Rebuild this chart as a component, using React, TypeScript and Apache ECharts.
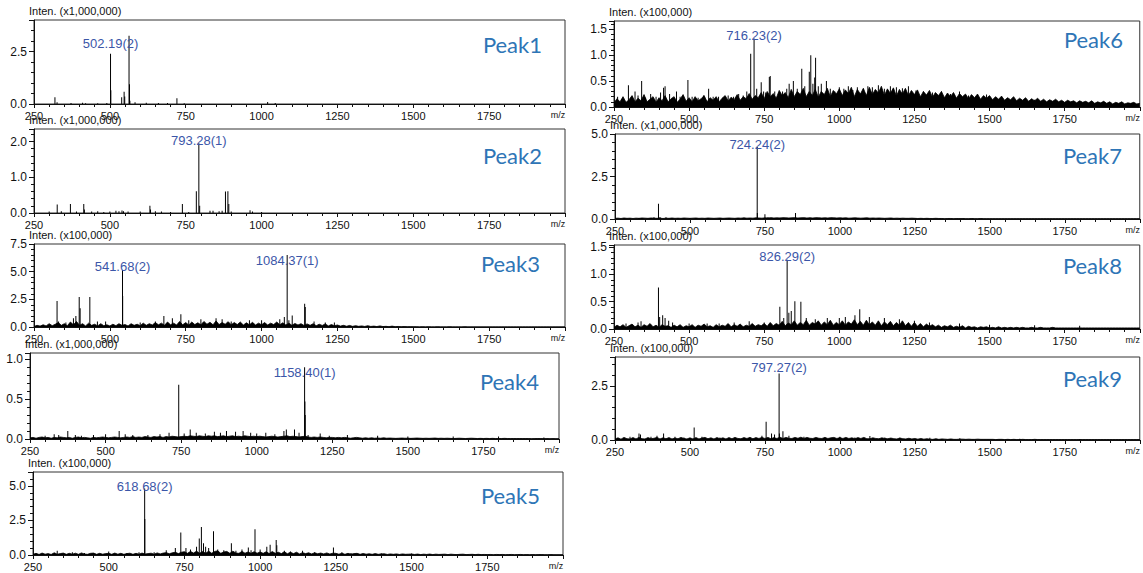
import React, { useEffect, useRef } from 'react';
import * as echarts from 'echarts';

// ---------------- data ----------------
const MZ_MIN = 250;
const MZ_MAX = 2000;
const MZ_INTERVAL = 250;
const NOISE_START = 250;
const NOISE_STEP = 10;

const PANEL_NAMES = ['Peak1', 'Peak2', 'Peak3', 'Peak4', 'Peak5', 'Peak6', 'Peak7', 'Peak8', 'Peak9'];
const INTEN_LABELS = [
  'Inten. (x1,000,000)', 'Inten. (x1,000,000)', 'Inten. (x100,000)', 'Inten. (x1,000,000)', 'Inten. (x100,000)',
  'Inten. (x100,000)', 'Inten. (x1,000,000)', 'Inten. (x100,000)', 'Inten. (x100,000)',
];
const Y_MAX = [4.0, 2.35, 7.5, 1.08, 6.0, 1.66, 5.0, 1.54, 3.83];
const Y_INTERVAL = [2.5, 1.0, 2.5, 0.5, 2.5, 0.5, 2.5, 0.5, 2.5];

const ANNOT_1 = [{ mz: 502.19, text: '502.19(2)' }];
const ANNOT_2 = [{ mz: 793.28, text: '793.28(1)' }];
const ANNOT_3 = [{ mz: 541.68, text: '541.68(2)' }, { mz: 1084.37, text: '1084.37(1)' }];
const ANNOT_4 = [{ mz: 1158.4, text: '1158.40(1)' }];
const ANNOT_5 = [{ mz: 618.68, text: '618.68(2)' }];
const ANNOT_6 = [{ mz: 716.23, text: '716.23(2)' }];
const ANNOT_7 = [{ mz: 724.24, text: '724.24(2)' }];
const ANNOT_8 = [{ mz: 826.29, text: '826.29(2)' }];
const ANNOT_9 = [{ mz: 797.27, text: '797.27(2)' }];

const PEAKS_1 = [
  [319, 0.32], [326, 0.08], [372, 0.05], [410, 0.06], [420, 0.04], [460, 0.04], [490, 0.05],
  [502.19, 2.39], [503.19, 0.65], [539, 0.32], [547, 0.58], [549, 0.36], [563.2, 3.25], [564.7, 0.94],
  [566, 0.15], [583, 0.08], [620, 0.06], [660, 0.05], [690, 0.05], [721, 0.27], [745, 0.04], [1020, 0.1], [1045, 0.05],
];
const PEAKS_2 = [
  [300, 0.04], [326.5, 0.24], [340, 0.05], [370, 0.25], [390, 0.04], [414, 0.25], [416, 0.1], [440, 0.04],
  [460, 0.05], [480, 0.03], [500, 0.04], [520, 0.06], [530, 0.05], [540, 0.07], [545, 0.05], [560, 0.04],
  [600, 0.04], [632, 0.2], [634, 0.1], [650, 0.05], [670, 0.04], [700, 0.03], [739, 0.25], [760, 0.03],
  [785, 0.61], [793.28, 1.95], [796, 0.2], [830, 0.06], [840, 0.06], [860, 0.05], [870, 0.06], [881, 0.6],
  [889, 0.61], [892, 0.25], [900, 0.04], [962, 0.08], [970, 0.04], [1000, 0.03],
];
const PEAKS_3 = [
  [326, 2.35], [331, 0.5], [355, 0.4], [380, 0.8], [388, 1.0], [399, 2.7], [402, 1.7], [434, 2.7], [459, 0.5],
  [486, 0.5], [541.68, 5.15], [542.18, 2.8], [600, 0.4], [650, 0.5], [678, 1.0], [706, 0.8], [734, 1.15],
  [760, 0.6], [800, 0.7], [850, 0.8], [870, 0.7], [900, 0.5], [960, 0.6], [1000, 0.6], [1060, 0.7],
  [1075, 0.9], [1084.37, 6.5], [1090, 0.6], [1101, 1.05], [1142, 2.1], [1144, 1.8], [1173, 0.5],
  [1210, 0.4], [1240, 0.4],
];
const PEAKS_4 = [
  [300, 0.04], [330, 0.06], [345, 0.05], [375, 0.1], [400, 0.05], [420, 0.04], [460, 0.05], [500, 0.06],
  [545, 0.1], [565, 0.06], [590, 0.05], [640, 0.05], [680, 0.06], [710, 0.08], [742, 0.68], [760, 0.07],
  [780, 0.12], [800, 0.08], [830, 0.07], [860, 0.09], [880, 0.08], [900, 0.1], [930, 0.09], [955, 0.1],
  [980, 0.08], [1000, 0.07], [1030, 0.08], [1060, 0.06], [1090, 0.1], [1098, 0.12], [1125, 0.12],
  [1140, 0.08], [1158.4, 0.9], [1159.4, 0.47], [1160.4, 0.3], [1170, 0.05], [1210, 0.07], [1240, 0.04],
  [1300, 0.05], [1400, 0.04], [1500, 0.03], [1650, 0.03], [1800, 0.03], [1950, 0.02],
];
const PEAKS_5 = [
  [330, 0.3], [380, 0.2], [420, 0.15], [500, 0.25], [560, 0.15], [600, 0.2], [618.68, 4.8], [619.18, 2.6],
  [650, 0.2], [690, 0.35], [720, 0.5], [738, 1.63], [755, 0.5], [770, 0.4], [790, 0.6], [799, 1.2],
  [806, 2.03], [813, 0.85], [820, 0.6], [830, 0.5], [846, 1.72], [860, 0.4], [880, 0.35], [905, 0.85],
  [920, 0.3], [940, 0.4], [961, 0.55], [970, 0.35], [983, 1.87], [1000, 0.4], [1022, 0.6], [1033, 0.75],
  [1053, 1.08], [1055, 0.7], [1080, 0.3], [1100, 0.25], [1140, 0.3], [1180, 0.2], [1242, 0.55],
  [1270, 0.2], [1300, 0.15], [1400, 0.12], [1500, 0.1],
];
const PEAKS_6 = [
  [262, 0.2], [275, 0.15], [298, 0.42], [310, 0.2], [320, 0.3], [330, 0.22], [342, 0.5], [355, 0.18],
  [372, 0.25], [390, 0.2], [405, 0.28], [415, 0.37], [420, 0.4], [435, 0.25], [458, 0.3], [470, 0.2],
  [496, 0.52], [510, 0.2], [530, 0.18], [548, 0.22], [565, 0.35], [580, 0.2], [598, 0.2], [612, 0.18],
  [630, 0.22], [648, 0.2], [665, 0.25], [680, 0.22], [692, 0.3], [705, 1.03], [716.23, 1.32], [725, 0.35],
  [740, 0.48], [748, 0.3], [755, 0.28], [767, 0.58], [770, 0.6], [785, 0.3], [800, 0.28], [811, 0.3],
  [825, 0.35], [833, 0.45], [847, 0.5], [860, 0.35], [875, 0.74], [885, 0.4], [900, 0.68], [905, 1.0],
  [912, 0.45], [918, 0.57], [921, 0.95], [930, 0.4], [940, 0.45], [957, 0.5], [970, 0.35], [985, 0.3],
  [1000, 0.38], [1015, 0.35], [1030, 0.4], [1045, 0.33], [1060, 0.38], [1080, 0.35], [1095, 0.4],
  [1110, 0.38], [1130, 0.42], [1150, 0.35], [1170, 0.4], [1190, 0.38], [1210, 0.36], [1230, 0.4],
  [1255, 0.32], [1280, 0.3], [1310, 0.28], [1340, 0.3], [1370, 0.25], [1400, 0.3], [1430, 0.22],
  [1460, 0.22], [1490, 0.24], [1520, 0.18], [1560, 0.16], [1600, 0.15], [1650, 0.14], [1700, 0.12],
  [1760, 0.12], [1820, 0.1], [1880, 0.1], [1940, 0.08],
];
const PEAKS_7 = [
  [300, 0.05], [330, 0.06], [380, 0.1], [395, 0.9], [400, 0.12], [420, 0.1], [460, 0.06], [500, 0.05],
  [560, 0.06], [620, 0.06], [680, 0.05], [724.24, 4.23], [724.74, 0.35], [750, 0.28], [760, 0.1],
  [800, 0.08], [852, 0.35], [900, 0.08], [960, 0.06], [1050, 0.05], [1200, 0.05], [1400, 0.04],
];
const PEAKS_8 = [
  [290, 0.1], [330, 0.12], [340, 0.14], [398, 0.76], [402, 0.22], [412, 0.25], [420, 0.2], [432, 0.15],
  [445, 0.12], [500, 0.1], [560, 0.1], [600, 0.1], [650, 0.12], [700, 0.14], [750, 0.12], [802, 0.41],
  [815, 0.2], [826.29, 1.27], [832, 0.3], [840, 0.33], [852, 0.51], [872, 0.5], [890, 0.2], [920, 0.18],
  [960, 0.2], [1000, 0.2], [1020, 0.22], [1052, 0.25], [1068, 0.36], [1100, 0.22], [1150, 0.2],
  [1200, 0.18], [1250, 0.15], [1300, 0.12], [1400, 0.1], [1500, 0.08], [1650, 0.07], [1800, 0.06],
];
const PEAKS_9 = [
  [300, 0.15], [330, 0.3], [335, 0.25], [370, 0.15], [390, 0.2], [412, 0.3], [450, 0.15], [480, 0.12],
  [514, 0.58], [540, 0.15], [600, 0.12], [650, 0.1], [700, 0.12], [740, 0.2], [754, 0.84], [772, 0.3],
  [782, 0.25], [797.27, 3.07], [798.3, 0.3], [810, 0.4], [830, 0.2], [880, 0.15], [950, 0.12],
  [1000, 0.15], [1050, 0.12], [1100, 0.18], [1150, 0.12], [1200, 0.1], [1300, 0.1], [1400, 0.08],
  [1600, 0.06], [1800, 0.05],
];

// baseline noise, sampled every 10 m/z from 250
const NOISE_1: number[] = [];
const NOISE_2: number[] = [];
const NOISE_3 = [
  0.05, 0.15, 0.08, 0.2, 0.1, 0.3, 0.12, 0.25, 0.4, 0.15, 0.3, 0.12, 0.45, 0.2, 0.5, 0.15, 0.3, 0.1, 0.35, 0.15, 0.25, 0.1, 0.3, 0.12, 0.2,
  0.1, 0.25, 0.12, 0.3, 0.15, 0.22, 0.1, 0.3, 0.15, 0.25, 0.12, 0.35, 0.15, 0.3, 0.18, 0.4, 0.2, 0.35, 0.15, 0.45, 0.2, 0.35, 0.18, 0.5, 0.2,
  0.4, 0.18, 0.45, 0.22, 0.38, 0.2, 0.5, 0.25, 0.42, 0.2, 0.55, 0.22, 0.4, 0.25, 0.48, 0.2, 0.4, 0.22, 0.45, 0.18, 0.38, 0.2, 0.42, 0.18, 0.35,
  0.2, 0.4, 0.18, 0.35, 0.22, 0.45, 0.2, 0.38, 0.18, 0.35, 0.15, 0.32, 0.18, 0.3, 0.14, 0.28, 0.15, 0.3, 0.12, 0.25, 0.14, 0.28, 0.1, 0.22, 0.12,
  0.18, 0.08, 0.15, 0.07, 0.14, 0.06, 0.12, 0.06, 0.1, 0.05, 0.12, 0.05, 0.08, 0.04, 0.1, 0.04, 0.06, 0.03, 0.08, 0.03, 0.05, 0.02, 0.04, 0.02, 0.03,
  0.02, 0.02, 0.01, 0.02, 0.01, 0.02, 0.01, 0.01, 0.02, 0.01, 0.01, 0.01, 0.02, 0.01, 0.01, 0.01, 0.01, 0.02, 0.01, 0.01, 0.01, 0.01, 0.01, 0.01, 0.01,
  0.01, 0.01, 0.01, 0.01, 0.01, 0.01, 0.01, 0.01, 0.01, 0.01, 0.01, 0.01, 0.01, 0.01, 0.01, 0.01, 0.01, 0.01, 0.01, 0.01, 0.01, 0.01, 0.01, 0.01, 0.01, 0.01,
];
const NOISE_4 = [
  0.015, 0.02, 0.01, 0.02, 0.025, 0.015, 0.02, 0.01, 0.02, 0.015, 0.025, 0.02, 0.015, 0.02, 0.01, 0.02, 0.025, 0.015, 0.02, 0.015, 0.01, 0.02, 0.015, 0.02, 0.025,
  0.02, 0.015, 0.02, 0.025, 0.02, 0.015, 0.02, 0.025, 0.02, 0.03, 0.02, 0.025, 0.02, 0.03, 0.025, 0.02, 0.03, 0.025, 0.03, 0.02, 0.03, 0.025, 0.035, 0.03, 0.025,
  0.03, 0.035, 0.03, 0.04, 0.035, 0.03, 0.04, 0.035, 0.03, 0.04, 0.035, 0.04, 0.03, 0.035, 0.04, 0.03, 0.035, 0.04, 0.03, 0.035, 0.03, 0.04, 0.035, 0.03, 0.035,
  0.03, 0.035, 0.03, 0.025, 0.03, 0.035, 0.03, 0.025, 0.03, 0.035, 0.04, 0.03, 0.035, 0.03, 0.025, 0.03, 0.035, 0.025, 0.02, 0.025, 0.02, 0.025, 0.02, 0.015, 0.02,
  0.02, 0.015, 0.02, 0.015, 0.02, 0.015, 0.01, 0.015, 0.02, 0.015, 0.01, 0.015, 0.01, 0.015, 0.01, 0.012, 0.01, 0.015, 0.01, 0.012, 0.01, 0.008, 0.01, 0.012, 0.01,
  0.01, 0.008, 0.01, 0.012, 0.01, 0.008, 0.01, 0.008, 0.01, 0.012, 0.008, 0.01, 0.008, 0.01, 0.008, 0.006, 0.008, 0.01, 0.008, 0.006, 0.008, 0.01, 0.008, 0.006, 0.008,
  0.006, 0.008, 0.006, 0.008, 0.006, 0.005, 0.006, 0.008, 0.006, 0.005, 0.006, 0.005, 0.006, 0.005, 0.006, 0.005, 0.004, 0.005, 0.006, 0.005, 0.004, 0.005, 0.004, 0.005, 0.004, 0.004,
];
const NOISE_5 = [
  0.05, 0.12, 0.04, 0.14, 0.06, 0.1, 0.04, 0.16, 0.06, 0.1, 0.14, 0.05, 0.12, 0.06, 0.13, 0.05, 0.15, 0.07, 0.05, 0.12, 0.14, 0.05, 0.12, 0.06, 0.1,
  0.12, 0.05, 0.14, 0.06, 0.12, 0.05, 0.1, 0.13, 0.05, 0.12, 0.06, 0.14, 0.07, 0.1, 0.13, 0.06, 0.15, 0.08, 0.14, 0.17, 0.09, 0.16, 0.2, 0.1, 0.2,
  0.24, 0.12, 0.26, 0.14, 0.28, 0.12, 0.26, 0.12, 0.28, 0.13, 0.26, 0.3, 0.12, 0.22, 0.26, 0.12, 0.28, 0.14, 0.12, 0.26, 0.13, 0.22, 0.12, 0.24, 0.13,
  0.22, 0.12, 0.24, 0.1, 0.25, 0.12, 0.2, 0.1, 0.24, 0.09, 0.2, 0.1, 0.2, 0.08, 0.17, 0.1, 0.16, 0.08, 0.16, 0.09, 0.14, 0.08, 0.15, 0.07, 0.13,
  0.12, 0.06, 0.13, 0.05, 0.12, 0.06, 0.1, 0.12, 0.05, 0.11, 0.06, 0.09, 0.05, 0.1, 0.05, 0.08, 0.09, 0.04, 0.08, 0.05, 0.08, 0.04, 0.08, 0.05, 0.06,
  0.07, 0.04, 0.07, 0.03, 0.06, 0.04, 0.07, 0.03, 0.06, 0.04, 0.05, 0.06, 0.03, 0.06, 0.04, 0.03, 0.05, 0.06, 0.03, 0.04, 0.05, 0.03, 0.05, 0.03, 0.04,
  0.03, 0.04, 0.02, 0.04, 0.03, 0.04, 0.02, 0.03, 0.04, 0.02, 0.03, 0.04, 0.02, 0.03, 0.02, 0.03, 0.02, 0.03, 0.03, 0.02, 0.02, 0.03, 0.02, 0.02, 0.02, 0.02,
];
const NOISE_6 = [
  0.08, 0.16, 0.1, 0.2, 0.09, 0.14, 0.22, 0.1, 0.17, 0.12, 0.24, 0.1, 0.15, 0.2, 0.09, 0.18, 0.12, 0.22, 0.1, 0.16, 0.2, 0.09, 0.15, 0.24, 0.11,
  0.18, 0.1, 0.2, 0.12, 0.16, 0.22, 0.1, 0.18, 0.13, 0.2, 0.1, 0.17, 0.22, 0.12, 0.19, 0.14, 0.24, 0.13, 0.2, 0.16, 0.26, 0.15, 0.22, 0.18, 0.28,
  0.16, 0.3, 0.2, 0.26, 0.17, 0.32, 0.22, 0.28, 0.18, 0.34, 0.2, 0.3, 0.24, 0.36, 0.2, 0.3, 0.22, 0.34, 0.19, 0.3, 0.24, 0.36, 0.2, 0.32, 0.25,
  0.35, 0.22, 0.33, 0.26, 0.38, 0.2, 0.34, 0.25, 0.36, 0.22, 0.38, 0.24, 0.34, 0.27, 0.4, 0.22, 0.35, 0.26, 0.37, 0.21, 0.34, 0.25, 0.36, 0.22, 0.32,
  0.24, 0.33, 0.2, 0.3, 0.23, 0.32, 0.19, 0.28, 0.22, 0.3, 0.18, 0.27, 0.2, 0.28, 0.17, 0.26, 0.2, 0.25, 0.16, 0.24, 0.18, 0.25, 0.15, 0.22, 0.17,
  0.22, 0.14, 0.2, 0.15, 0.21, 0.13, 0.18, 0.14, 0.2, 0.12, 0.17, 0.13, 0.18, 0.11, 0.16, 0.12, 0.17, 0.11, 0.15, 0.1, 0.14, 0.11, 0.15, 0.1, 0.13,
  0.09, 0.13, 0.1, 0.12, 0.08, 0.12, 0.09, 0.11, 0.08, 0.12, 0.07, 0.1, 0.08, 0.11, 0.07, 0.1, 0.06, 0.09, 0.07, 0.1, 0.06, 0.08, 0.07, 0.09, 0.06, 0.07,
];
const NOISE_7 = [
  0.04, 0.05, 0.03, 0.06, 0.04, 0.05, 0.03, 0.05, 0.04, 0.06, 0.05, 0.04, 0.06, 0.05, 0.04, 0.05, 0.03, 0.05, 0.04, 0.06, 0.04, 0.05, 0.04, 0.06, 0.05,
  0.04, 0.05, 0.06, 0.04, 0.05, 0.04, 0.06, 0.05, 0.04, 0.05, 0.06, 0.04, 0.05, 0.06, 0.05, 0.04, 0.06, 0.05, 0.07, 0.05, 0.06, 0.05, 0.07, 0.06, 0.05,
  0.07, 0.06, 0.08, 0.06, 0.07, 0.06, 0.08, 0.07, 0.06, 0.07, 0.08, 0.06, 0.07, 0.08, 0.06, 0.07, 0.06, 0.08, 0.07, 0.06, 0.07, 0.06, 0.08, 0.07, 0.06,
  0.07, 0.06, 0.07, 0.05, 0.06, 0.07, 0.06, 0.05, 0.06, 0.07, 0.05, 0.06, 0.05, 0.06, 0.05, 0.04, 0.05, 0.06, 0.04, 0.05, 0.04, 0.05, 0.04, 0.04, 0.05,
  0.04, 0.03, 0.04, 0.03, 0.04, 0.03, 0.03, 0.04, 0.03, 0.03, 0.02, 0.03, 0.03, 0.02, 0.03, 0.02, 0.03, 0.02, 0.02, 0.03, 0.02, 0.02, 0.03, 0.02, 0.02,
  0.02, 0.02, 0.02, 0.02, 0.02, 0.02, 0.02, 0.02, 0.02, 0.02, 0.02, 0.02, 0.02, 0.02, 0.02, 0.02, 0.02, 0.02, 0.02, 0.02, 0.02, 0.02, 0.02, 0.02, 0.02,
  0.02, 0.02, 0.02, 0.02, 0.02, 0.02, 0.02, 0.02, 0.02, 0.02, 0.02, 0.02, 0.02, 0.02, 0.02, 0.02, 0.02, 0.02, 0.02, 0.02, 0.02, 0.02, 0.02, 0.02, 0.02, 0.02,
];
const NOISE_8 = [
  0.03, 0.07, 0.04, 0.08, 0.03, 0.06, 0.09, 0.04, 0.07, 0.03, 0.08, 0.05, 0.1, 0.04, 0.07, 0.03, 0.08, 0.05, 0.06, 0.03, 0.07, 0.04, 0.08, 0.03, 0.06,
  0.04, 0.08, 0.03, 0.07, 0.05, 0.09, 0.04, 0.06, 0.03, 0.08, 0.04, 0.07, 0.05, 0.1, 0.04, 0.08, 0.05, 0.09, 0.04, 0.07, 0.05, 0.1, 0.05, 0.08, 0.06,
  0.1, 0.05, 0.12, 0.06, 0.1, 0.07, 0.14, 0.06, 0.11, 0.08, 0.15, 0.07, 0.12, 0.08, 0.16, 0.07, 0.12, 0.09, 0.15, 0.07, 0.13, 0.08, 0.16, 0.07, 0.12,
  0.08, 0.15, 0.07, 0.13, 0.09, 0.17, 0.08, 0.14, 0.07, 0.16, 0.08, 0.13, 0.07, 0.15, 0.06, 0.13, 0.08, 0.14, 0.06, 0.12, 0.07, 0.15, 0.06, 0.12, 0.05,
  0.12, 0.05, 0.1, 0.04, 0.09, 0.05, 0.08, 0.04, 0.07, 0.03, 0.06, 0.04, 0.07, 0.03, 0.05, 0.03, 0.06, 0.02, 0.05, 0.03, 0.04, 0.02, 0.04, 0.03, 0.04,
  0.02, 0.03, 0.02, 0.04, 0.02, 0.03, 0.02, 0.03, 0.02, 0.03, 0.02, 0.03, 0.02, 0.02, 0.03, 0.02, 0.02, 0.03, 0.02, 0.02, 0.02, 0.03, 0.02, 0.02, 0.02,
  0.02, 0.02, 0.02, 0.02, 0.02, 0.02, 0.02, 0.02, 0.02, 0.02, 0.02, 0.02, 0.02, 0.02, 0.02, 0.02, 0.02, 0.02, 0.02, 0.02, 0.02, 0.02, 0.02, 0.02, 0.02, 0.02,
];
const NOISE_9 = [
  0.05, 0.1, 0.04, 0.12, 0.06, 0.05, 0.11, 0.05, 0.12, 0.06, 0.05, 0.11, 0.06, 0.08, 0.12, 0.05, 0.1, 0.06, 0.11, 0.05, 0.09, 0.06, 0.12, 0.07, 0.05,
  0.1, 0.05, 0.11, 0.05, 0.09, 0.12, 0.06, 0.1, 0.05, 0.11, 0.06, 0.1, 0.05, 0.11, 0.06, 0.12, 0.07, 0.06, 0.11, 0.07, 0.12, 0.06, 0.11, 0.07, 0.12,
  0.07, 0.12, 0.06, 0.11, 0.07, 0.13, 0.07, 0.12, 0.08, 0.07, 0.12, 0.08, 0.13, 0.07, 0.12, 0.08, 0.07, 0.12, 0.08, 0.07, 0.12, 0.07, 0.1, 0.12, 0.07,
  0.11, 0.07, 0.12, 0.07, 0.1, 0.06, 0.11, 0.07, 0.12, 0.06, 0.06, 0.1, 0.07, 0.06, 0.1, 0.07, 0.06, 0.09, 0.06, 0.05, 0.09, 0.06, 0.05, 0.08, 0.05,
  0.07, 0.04, 0.07, 0.04, 0.06, 0.04, 0.03, 0.06, 0.03, 0.05, 0.04, 0.03, 0.05, 0.03, 0.03, 0.04, 0.04, 0.03, 0.04, 0.03, 0.03, 0.04, 0.03, 0.03, 0.03,
  0.03, 0.03, 0.02, 0.03, 0.03, 0.02, 0.03, 0.02, 0.03, 0.02, 0.02, 0.03, 0.02, 0.02, 0.02, 0.03, 0.02, 0.02, 0.02, 0.02, 0.02, 0.02, 0.02, 0.02, 0.02,
  0.02, 0.02, 0.02, 0.02, 0.02, 0.02, 0.02, 0.02, 0.02, 0.02, 0.02, 0.02, 0.02, 0.02, 0.02, 0.02, 0.02, 0.02, 0.02, 0.02, 0.02, 0.02, 0.02, 0.02, 0.02, 0.02,
];

const PEAKS = [PEAKS_1, PEAKS_2, PEAKS_3, PEAKS_4, PEAKS_5, PEAKS_6, PEAKS_7, PEAKS_8, PEAKS_9];
const NOISES = [NOISE_1, NOISE_2, NOISE_3, NOISE_4, NOISE_5, NOISE_6, NOISE_7, NOISE_8, NOISE_9];
const ANNOTS = [ANNOT_1, ANNOT_2, ANNOT_3, ANNOT_4, ANNOT_5, ANNOT_6, ANNOT_7, ANNOT_8, ANNOT_9];

// ---------------- layout / style ----------------
const LAYOUT = [
  { left: 34, top: 20, width: 531, height: 84 },
  { left: 34, top: 129, width: 531, height: 84 },
  { left: 34, top: 244, width: 531, height: 83 },
  { left: 30, top: 353, width: 529, height: 86 },
  { left: 33, top: 472, width: 530, height: 83 },
  { left: 614, top: 21, width: 528, height: 86 },
  { left: 615, top: 134, width: 527, height: 85 },
  { left: 614, top: 245, width: 528, height: 84 },
  { left: 615, top: 357, width: 527, height: 83 },
];
const NAME_DY = [24, 26, 19, 28, 23, 18, 21, 20, 21];
const NAME_DX = [23, 23, 25, 20, 23, 19, 20, 20, 20];
const LABEL_DY: number[][] = [[1], [9], [8, 17], [17], [9], [8], [9], [8], [6]];

const NARROW = '"Liberation Sans Narrow", "Arial Narrow", "Liberation Sans", Arial, sans-serif';
const ANNOT_COLOR = '#3b56a8';
const NAME_COLOR = '#2e75b6';

function buildOption() {
  const grid: any[] = [];
  const xAxis: any[] = [];
  const yAxis: any[] = [];
  const series: any[] = [];
  const graphic: any[] = [];

  LAYOUT.forEach((g, i) => {
    grid.push({ ...g, show: true, borderColor: '#333', borderWidth: 1, backgroundColor: 'transparent' });
    xAxis.push({
      type: 'value', gridIndex: i, min: MZ_MIN, max: MZ_MAX, interval: MZ_INTERVAL,
      axisLine: { show: true, onZero: false, lineStyle: { color: '#111', width: 1 } },
      axisTick: { show: true, inside: false, length: 4, lineStyle: { color: '#111' } },
      minorTick: { show: true, splitNumber: 5, length: 3, lineStyle: { color: '#111' } },
      splitLine: { show: false }, minorSplitLine: { show: false },
      axisLabel: {
        margin: 6, fontSize: 11, fontFamily: NARROW, color: '#111',
        formatter: (v: number) => (v === MZ_MAX ? '{mz|m/z}' : String(v)),
        rich: { mz: { fontSize: 9, fontFamily: NARROW, color: '#111', padding: [0, 14, 0, 0] } },
      },
    });
    const step = Y_INTERVAL[i];
    yAxis.push({
      type: 'value', gridIndex: i, min: 0, max: Y_MAX[i], interval: step,
      axisLine: { show: true, lineStyle: { color: '#111', width: 1 } },
      axisTick: { show: true, inside: false, length: 5, lineStyle: { color: '#111' } },
      minorTick: { show: true, splitNumber: 5, length: 3, lineStyle: { color: '#111' } },
      splitLine: { show: false }, minorSplitLine: { show: false },
      axisLabel: {
        margin: 7, fontSize: 12, fontFamily: NARROW, color: '#111',
        formatter: (v: number) => {
          const r = v / step;
          return Math.abs(r - Math.round(r)) < 1e-6 ? v.toFixed(1) : '';
        },
      },
    });

    const noise = NOISES[i];
    if (noise.length) {
      series.push({
        type: 'line', xAxisIndex: i, yAxisIndex: i, z: 2,
        data: noise.map((v, k) => [NOISE_START + k * NOISE_STEP, v]),
        showSymbol: false, symbol: 'none', silent: true,
        lineStyle: { color: '#000', width: 0.8 },
        areaStyle: { color: '#000', opacity: 1 },
      });
    }
    const annots = ANNOTS[i];
    series.push({
      type: 'bar', xAxisIndex: i, yAxisIndex: i, z: 3, barWidth: 1, silent: true,
      itemStyle: { color: '#000' },
      data: PEAKS[i].map(([mz, h]) => {
        const ai = annots.findIndex((a) => a.mz === mz);
        if (ai < 0) return [mz, h];
        return {
          value: [mz, h],
          label: {
            show: true, position: 'top', distance: 5, offset: [0, LABEL_DY[i][ai] ?? 0],
            formatter: annots[ai].text, color: ANNOT_COLOR, fontSize: 13, fontFamily: NARROW,
          },
        };
      }),
    });

    graphic.push({
      type: 'text', left: g.left - 5, top: g.top - 15, silent: true,
      style: { text: INTEN_LABELS[i], fontSize: 11, fontFamily: NARROW, fill: '#111' },
    });
    graphic.push({
      type: 'text', x: g.left + g.width - NAME_DX[i], y: g.top + NAME_DY[i], silent: true,
      style: {
        text: PANEL_NAMES[i], fontSize: 22, fontFamily: 'Lato, "Open Sans", sans-serif', fill: NAME_COLOR,
        align: 'right', verticalAlign: 'middle',
      },
    });
  });

  return { animation: false, backgroundColor: '#fff', grid, xAxis, yAxis, series, graphic };
}

export default function App() {
  const ref = useRef<HTMLDivElement>(null);
  useEffect(() => {
    if (!ref.current) return;
    const chart = echarts.init(ref.current, undefined, { renderer: 'svg' });
    chart.setOption(buildOption() as any);
    return () => chart.dispose();
  }, []);
  return (
    <div
      ref={ref}
      style={{ position: 'fixed', left: 0, top: 0, width: 1143, height: 573, background: '#fff' }}
    />
  );
}
